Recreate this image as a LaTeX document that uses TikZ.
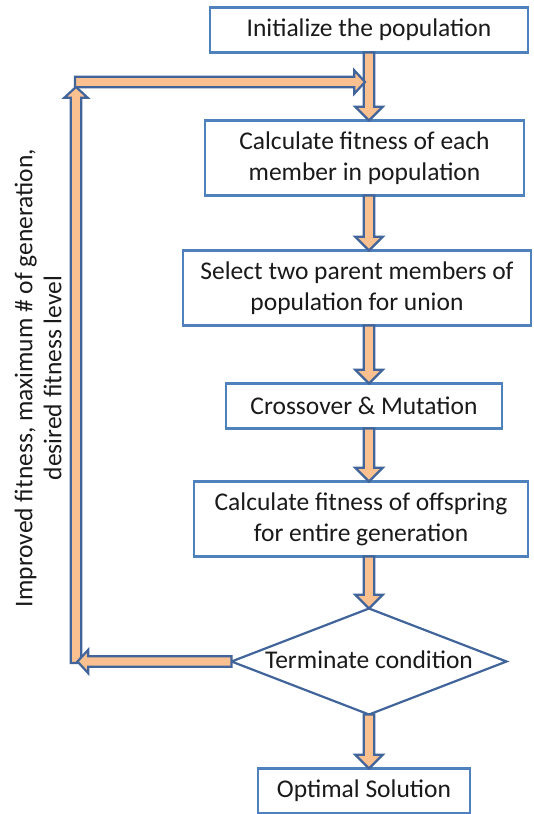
\documentclass[tikz,border=0pt]{standalone}
\usepackage{fontspec}
\setmainfont{Carlito}
\usetikzlibrary{positioning,shapes.geometric,shapes.arrows,calc}
\definecolor{boxline}{HTML}{4F81BD}
\definecolor{arrline}{HTML}{41649A}
\definecolor{arrfill}{HTML}{FAC090}
\definecolor{txt}{HTML}{1A1A1A}
\tikzset{
stepbox/.style={draw=boxline,line width=2.2pt,fill=white,outer sep=0pt,inner sep=2pt,align=center,minimum height=45pt,text=txt,font=\fontsize{25.5}{31}\selectfont},
tallbox/.style={stepbox,minimum height=75pt},
decision/.style={draw=arrline,line width=2.2pt,fill=white,diamond,aspect=2.6,minimum width=275pt,minimum height=106pt,inner sep=0pt,outer sep=0pt,text height=16pt,text depth=3pt,text=txt,font=\fontsize{25.5}{31}\selectfont},
flowarrow/.style={single arrow,draw=arrline,fill=arrfill,line width=2.2pt,inner sep=4.2pt,single arrow head extend=8.5pt,single arrow tip angle=90,outer sep=0pt},
backarrow/.style={flowarrow,single arrow head extend=6.5pt,single arrow tip angle=95}
}
\newcommand\blockflow[3][flowarrow]{%
  \path let \p1=(#2), \p2=(#3), \n1={veclen(\x2-\x1,\y2-\y1)}, \n2={atan2(\y2-\y1,\x2-\x1)} in
    node[#1,anchor=tail,minimum height=\n1,rotate=\n2] at (\p1) {};}
\begin{document}
\begin{tikzpicture}[x=1pt,y=-1pt]
\useasboundingbox (0,0) rectangle (534,814);
\node[stepbox,minimum width=318pt](init) at (369,30){Initialize the population};
\node[tallbox,minimum width=319pt,below=68pt of init,xshift=-4.5pt](fitall){Calculate fitness of each\\member in population};
\node[tallbox,minimum width=348pt,below=55pt of fitall,xshift=-7.5pt](select){Select two parent members of\\population for union};
\node[stepbox,minimum width=276pt,below=58pt of select,xshift=7pt](cross){Crossover \& Mutation};
\node[tallbox,minimum width=334pt,below=53pt of cross,xshift=-3pt](fitoff){Calculate fitness of offspring\\for entire generation};
\node[decision,below=52pt of fitoff,xshift=8pt](term){Terminate condition};
\node[stepbox,minimum width=212pt,below=54pt of term,xshift=-5pt](opt){Optimal Solution};
\node[rotate=90,align=center,text=txt,font=\fontsize{25.5}{29}\selectfont](crit) at (38,378){Improved fitness, maximum \# of generation,\\desired fitness level};
% main flow
\blockflow{init.south}{fitall.north -| init.south}
\blockflow{fitall.south -| init.south}{select.north -| init.south}
\blockflow{select.south -| init.south}{cross.north -| init.south}
\blockflow{cross.south -| init.south}{fitoff.north -| init.south}
\blockflow{fitoff.south -| init.south}{term.north}
\blockflow{term.south}{opt.north -| term.south}
% loop back
\coordinate (retL) at ([xshift=-154pt]term.west);
\coordinate (loopB) at (76,663);
\coordinate (loopT) at (76,87);
\coordinate (loopS) at (75,82);
\coordinate (loopE) at (365,82);
\blockflow[backarrow]{loopB}{loopT}
\blockflow[backarrow]{term.west}{retL}
\blockflow[backarrow]{loopS}{loopE}
\end{tikzpicture}
\end{document}
